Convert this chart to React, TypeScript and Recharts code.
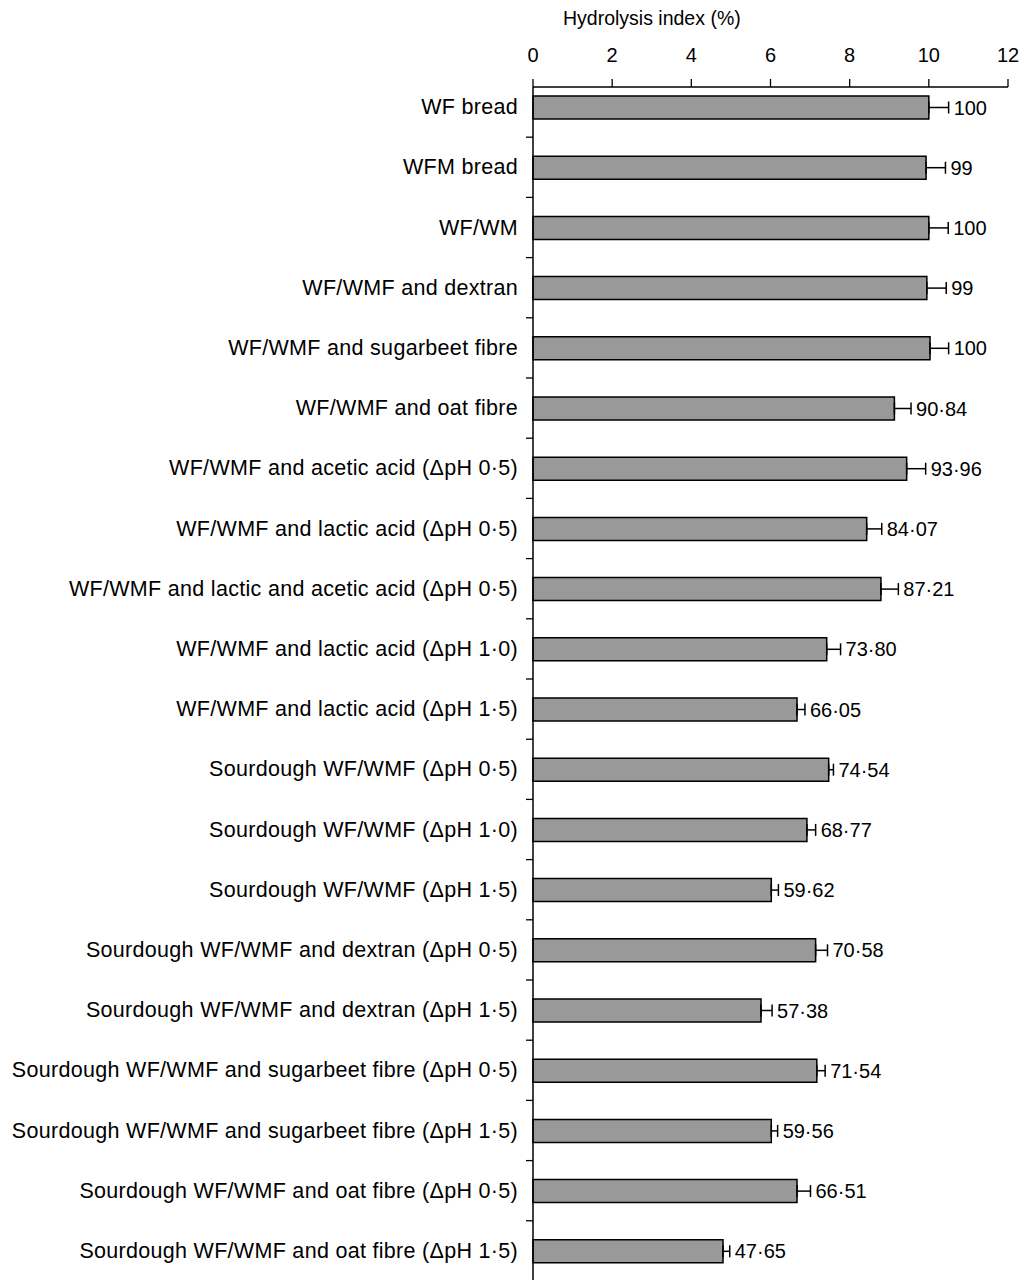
import React from 'react';
import { BarChart, Bar, XAxis, YAxis, ErrorBar, LabelList, Label } from 'recharts';

const categories = [
  'WF bread',
  'WFM bread',
  'WF/WM',
  'WF/WMF and dextran',
  'WF/WMF and sugarbeet fibre',
  'WF/WMF and oat fibre',
  'WF/WMF and acetic acid (\u0394pH 0\u00B75)',
  'WF/WMF and lactic acid (\u0394pH 0\u00B75)',
  'WF/WMF and lactic and acetic acid (\u0394pH 0\u00B75)',
  'WF/WMF and lactic acid (\u0394pH 1\u00B70)',
  'WF/WMF and lactic acid (\u0394pH 1\u00B75)',
  'Sourdough WF/WMF (\u0394pH 0\u00B75)',
  'Sourdough WF/WMF (\u0394pH 1\u00B70)',
  'Sourdough WF/WMF (\u0394pH 1\u00B75)',
  'Sourdough WF/WMF and dextran (\u0394pH 0\u00B75)',
  'Sourdough WF/WMF and dextran (\u0394pH 1\u00B75)',
  'Sourdough WF/WMF and sugarbeet fibre (\u0394pH 0\u00B75)',
  'Sourdough WF/WMF and sugarbeet fibre (\u0394pH 1\u00B75)',
  'Sourdough WF/WMF and oat fibre (\u0394pH 0\u00B75)',
  'Sourdough WF/WMF and oat fibre (\u0394pH 1\u00B75)',
];

const values = [10.0, 9.93, 10.0, 9.95, 10.03, 9.13, 9.44, 8.43, 8.79, 7.42, 6.67, 7.47, 6.92, 6.02, 7.14, 5.76, 7.17, 6.02, 6.67, 4.8];
const errors = [0.5, 0.49, 0.49, 0.49, 0.47, 0.42, 0.48, 0.38, 0.44, 0.35, 0.2, 0.12, 0.22, 0.18, 0.3, 0.28, 0.21, 0.16, 0.34, 0.17];
const valueLabels = ['100', '99', '100', '99', '100', '90\u00B784', '93\u00B796', '84\u00B707', '87\u00B721', '73\u00B780', '66\u00B705', '74\u00B754', '68\u00B777', '59\u00B762', '70\u00B758', '57\u00B738', '71\u00B754', '59\u00B756', '66\u00B751', '47\u00B765'];
const xTicks = [0, 2, 4, 6, 8, 10, 12];

const data = categories.map((name, i) => ({
  name,
  value: values[i],
  errRange: [0, errors[i]],
  label: valueLabels[i],
}));

const FONT = '"Liberation Sans", Arial, Helvetica, sans-serif';
const FS = 19.5;
const CAT_FS = 21.5;
const TICK_MARGIN = 15;

const CategoryTick = (props: any) => {
  const { x, y, payload, index } = props;
  const half = payload && payload.offset ? payload.offset : 30.1;
  const axisX = x + TICK_MARGIN;
  return (
    <g>
      <text
        x={x}
        y={y}
        textAnchor="end"
        dominantBaseline="central"
        fontSize={CAT_FS}
        letterSpacing={0.3}
        fontFamily={FONT}
        fill="#000"
      >
        {payload.value}
      </text>
      {index < categories.length - 1 && (
        <line x1={axisX - 7} x2={axisX} y1={y + half} y2={y + half} stroke="#000" strokeWidth={1.3} />
      )}
    </g>
  );
};

const ValueLabel = (props: any) => {
  const { x, y, width, height, index, value } = props;
  const errPx = (errors[index] * width) / values[index];
  return (
    <text
      x={x + width + errPx + 5}
      y={y + height / 2}
      dominantBaseline="central"
      fontSize={20}
      fontFamily={FONT}
      fill="#000"
    >
      {value}
    </text>
  );
};

const TitleLabel = (props: any) => {
  const vb = props.viewBox || {};
  return (
    <text x={(vb.x || 0) + 30} y={25} fontSize={FS} fontFamily={FONT} fill="#000">
      Hydrolysis index (%)
    </text>
  );
};

export default function App() {
  return (
    <div style={{ position: 'absolute', left: 0, top: 0, width: 1025, height: 1280, overflow: 'hidden', background: '#fff' }}>
      <BarChart
        width={1025}
        height={1281}
        data={data}
        layout="vertical"
        margin={{ top: 0, right: 17, bottom: 0, left: 0 }}
      >
        <XAxis
          type="number"
          orientation="top"
          domain={[0, 12]}
          ticks={xTicks}
          height={87}
          tickSize={8}
          tickMargin={17}
          axisLine={{ stroke: '#000', strokeWidth: 1.5 }}
          tickLine={{ stroke: '#000', strokeWidth: 1.3 }}
          tick={{ fill: '#000', fontSize: 20, fontFamily: FONT }}
        >
          <Label content={<TitleLabel />} />
        </XAxis>
        <YAxis
          type="category"
          dataKey="name"
          width={533}
          padding={{ top: -10, bottom: 0 }}
          tickSize={0}
          tickMargin={TICK_MARGIN}
          tickLine={false}
          axisLine={{ stroke: '#000', strokeWidth: 1.5 }}
          tick={<CategoryTick />}
          interval={0}
        />
        <Bar dataKey="value" fill="#999999" stroke="#000" strokeWidth={1.5} barSize={23} isAnimationActive={false}>
          <ErrorBar dataKey="errRange" direction="x" width={6} stroke="#000" strokeWidth={1.5} />
          <LabelList dataKey="label" content={<ValueLabel />} />
        </Bar>
      </BarChart>
    </div>
  );
}
